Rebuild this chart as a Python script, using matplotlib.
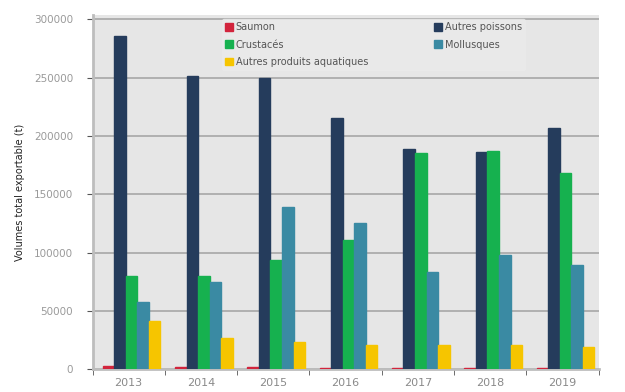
import numpy as np
import matplotlib
matplotlib.use("Agg")
import matplotlib.pyplot as plt

years = ["2013", "2014", "2015", "2016", "2017", "2018", "2019"]
saumon = [2500, 2000, 2000, 1500, 1500, 1500, 1500]
autres_poissons = [286000, 251000, 250000, 215500, 189000, 186000, 207000]
crustaces = [80000, 80000, 94000, 111000, 185000, 187000, 168000]
mollusques = [58000, 75000, 139000, 125000, 83500, 97500, 89000]
autres_produits = [41000, 27000, 23000, 21000, 21000, 21000, 19000]

series = [
    ("Saumon", saumon, "#d2243c"),
    ("Autres poissons", autres_poissons, "#253c5c"),
    ("Crustacés", crustaces, "#16b14f"),
    ("Mollusques", mollusques, "#3a8aa3"),
    ("Autres produits aquatiques", autres_produits, "#f6c500"),
]

fig = plt.figure(figsize=(6.25, 3.92), dpi=100)
ax = fig.add_axes([0.148, 0.058, 0.81, 0.905])
ax.set_facecolor("#e6e6e6")

x = np.arange(len(years))
w = 0.16
handles = []
for i, (name, vals, col) in enumerate(series):
    b = ax.bar(x + (i - 2) * w + 0.04, vals, w, color=col, edgecolor=col, zorder=3, label=name)
    handles.append(b)

ax.set_ylim(0, 304000)
ax.set_xlim(-0.5, len(years) - 0.5)
ax.set_yticks(np.arange(0, 300001, 50000))
ax.set_yticklabels([str(v) for v in range(0, 300001, 50000)], color="#9a9a9a", fontsize=7.5)
ax.set_xticks(x)
ax.set_xticklabels(years, color="#8a8a8a", fontsize=8)
ax.set_xticks(np.arange(-0.5, len(years)), minor=True)
ax.tick_params(axis="x", which="major", length=0, pad=6)
ax.tick_params(axis="x", which="minor", length=4, color="#555555")
ax.tick_params(axis="y", length=4, color="#555555", pad=10)
ax.grid(axis="y", color="#b0b0b0", linewidth=1.4, zorder=1)
for s in ["top", "right"]:
    ax.spines[s].set_visible(False)
ax.spines["left"].set_color("#bdbdbd")
ax.spines["left"].set_linewidth(2)
ax.spines["bottom"].set_color("#bdbdbd")
ax.spines["bottom"].set_linewidth(2)

ax.set_ylabel("Volumes total exportable (t)", fontsize=7, color="#222222", labelpad=6)

order = [handles[0], handles[2], handles[4], handles[1], handles[3]]
leg = ax.legend(handles=order, labels=[h.get_label() for h in order], ncol=2,
                loc="upper center", bbox_to_anchor=(0.555, 1.0), fontsize=7,
                frameon=True, facecolor="#eaeaea", edgecolor="#eaeaea",
                handlelength=0.8, handleheight=0.8, columnspacing=6.8,
                labelspacing=0.75, borderpad=0.3, handletextpad=0.3)
for t in leg.get_texts():
    t.set_color("#555555")

fig.savefig("out.png", dpi=100)
